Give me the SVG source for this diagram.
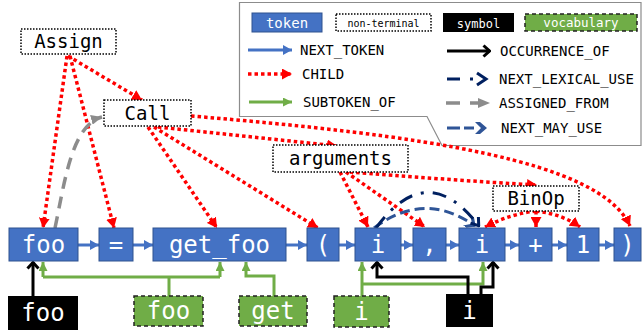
<svg xmlns="http://www.w3.org/2000/svg" width="642" height="336" viewBox="0 0 642 336">
<style>
.tok rect{fill:#4472C4;stroke:#2F528F;stroke-width:1}
.tt{font-family:"DejaVu Sans Mono","Liberation Mono",monospace;font-size:24px;fill:#fff;text-anchor:middle}
.nt rect{fill:#fff;stroke:#000;stroke-width:1.5;stroke-dasharray:1.5 1.5}
.nl{font-family:"DejaVu Sans Mono","Liberation Mono",monospace;font-size:19px;fill:#000;text-anchor:middle}
.sym rect{fill:#000}
.voc rect{fill:#70AD47;stroke:#222;stroke-width:1.5;stroke-dasharray:4 3}
.lg{font-family:"DejaVu Sans Mono","Liberation Mono",monospace;font-size:14px;fill:#000}
.child{fill:none;stroke:#FF0000;stroke-width:3.5;stroke-dasharray:3.5 3;marker-end:url(#ahRed)}
.next{fill:none;stroke:#4472C4;stroke-width:3;marker-end:url(#ahBlue)}
.sub{fill:none;stroke:#70AD47;stroke-width:3}
.suba{marker-end:url(#ahGreen)}
.occ{fill:none;stroke:#000;stroke-width:3}
.occa{marker-end:url(#ahBlack)}
.nlu{fill:none;stroke:#002060;stroke-width:3;stroke-dasharray:14 9 3 9;marker-end:url(#ahNavy)}
.nmu{fill:none;stroke:#2F5597;stroke-width:3;stroke-dasharray:10 5;marker-end:url(#ahMay)}
.asg{fill:none;stroke:#8C8C8C;stroke-width:3.5;stroke-dasharray:12 8;marker-end:url(#ahGray)}
</style>
<defs>
<marker id="ahRed" viewBox="0 0 10 11" refX="10" refY="5.5" markerWidth="10" markerHeight="11" markerUnits="userSpaceOnUse" orient="auto"><path d="M0,0 L10,5.5 L0,11 z" fill="#FF0000"/></marker>
<marker id="ahBlue" viewBox="0 0 9 10" refX="9" refY="5" markerWidth="9" markerHeight="10" markerUnits="userSpaceOnUse" orient="auto"><path d="M0,0 L9,5 L0,10 z" fill="#4472C4"/></marker>
<marker id="ahGreen" viewBox="0 0 9 9" refX="9" refY="4.5" markerWidth="9" markerHeight="9" markerUnits="userSpaceOnUse" orient="auto"><path d="M0,0 L9,4.5 L0,9 z" fill="#70AD47"/></marker>
<marker id="ahBlack" viewBox="0 0 9 14" refX="8" refY="7" markerWidth="9" markerHeight="14" markerUnits="userSpaceOnUse" orient="auto"><path d="M1.5,1.5 L7.5,7 L1.5,12.5" fill="none" stroke="#000" stroke-width="3"/></marker>
<marker id="ahNavy" viewBox="0 0 10 13" refX="9" refY="6.5" markerWidth="10" markerHeight="13" markerUnits="userSpaceOnUse" orient="auto"><path d="M1.5,1.5 L8.5,6.5 L1.5,11.5" fill="none" stroke="#002060" stroke-width="3"/></marker>
<marker id="ahMay" viewBox="0 0 11 13" refX="10" refY="6.5" markerWidth="11" markerHeight="13" markerUnits="userSpaceOnUse" orient="auto"><path d="M0,0 L4,0 L11,6.5 L4,13 L0,13 L6,6.5 z" fill="#2F5597"/></marker>
<marker id="ahGray" viewBox="0 0 11 10" refX="11" refY="5" markerWidth="11" markerHeight="10" markerUnits="userSpaceOnUse" orient="auto"><path d="M0,0 L11,5 L0,10 z" fill="#8C8C8C"/></marker>
</defs>
<rect width="642" height="336" fill="#fff"/>

<g id="legend">
<path d="M239.5,2.5 H641 V145.5 H442 L427,116.5 H239.5 Z" fill="#fff" stroke="#8C8C8C" stroke-width="1.2"/>
<g class="tok"><rect x="252" y="13" width="70" height="19"/></g>
<text x="287" y="28" font-family="DejaVu Sans Mono, monospace" font-size="14" fill="#fff" text-anchor="middle">token</text>
<g class="nt"><rect x="336" y="14" width="95" height="17"/></g>
<text x="383.5" y="26.5" font-family="DejaVu Sans Mono, monospace" font-size="10" fill="#000" text-anchor="middle">non-terminal</text>
<g class="sym"><rect x="443" y="13" width="71" height="19"/></g>
<text x="478.5" y="27.5" font-family="DejaVu Sans Mono, monospace" font-size="12" fill="#fff" text-anchor="middle">symbol</text>
<g class="voc"><rect x="525" y="14" width="112" height="17"/></g>
<text x="581" y="27" font-family="DejaVu Sans Mono, monospace" font-size="12.5" fill="#fff" text-anchor="middle">vocabulary</text>

<path class="next" d="M248,50 H292"/>
<text class="lg" x="300" y="55">NEXT_TOKEN</text>
<path class="child" d="M248,74 H292"/>
<text class="lg" x="302" y="79">CHILD</text>
<path class="sub suba" d="M249,102 H292"/>
<text class="lg" x="303" y="107">SUBTOKEN_OF</text>

<path class="occ occa" d="M447,51 H490"/>
<text class="lg" x="500" y="56">OCCURRENCE_OF</text>
<path d="M447,79 H460 M470,79 H473" fill="none" stroke="#002060" stroke-width="3"/>
<path d="M477,73 L486,79 L477,85" fill="none" stroke="#002060" stroke-width="3"/>
<text class="lg" x="499" y="84">NEXT_LEXICAL_USE</text>
<path d="M446,103 H460 M470,103 H478" fill="none" stroke="#8C8C8C" stroke-width="3.5"/>
<path d="M478,98 L490,103 L478,108 z" fill="#8C8C8C"/>
<text class="lg" x="499" y="108">ASSIGNED_FROM</text>
<path d="M447,128 H460 M464,128 H474" fill="none" stroke="#2F5597" stroke-width="3"/>
<path d="M475,122 L480,122 L487,128 L480,134 L475,134 L481,128 z" fill="#2F5597"/>
<text class="lg" x="501" y="133">NEXT_MAY_USE</text>
</g>

<g id="connectors">
<!-- NEXT_TOKEN -->
<path class="next" d="M78,245 H99"/>
<path class="next" d="M133,245 H153"/>
<path class="next" d="M286,245 H307"/>
<path class="next" d="M339,245 H355"/>
<path class="next" d="M401,245 H413"/>
<path class="next" d="M446,245 H459"/>
<path class="next" d="M505,245 H519"/>
<path class="next" d="M552,245 H567"/>
<path class="next" d="M599,245 H614"/>
<!-- CHILD -->
<path class="child" d="M68,56 L142,100"/>
<path class="child" d="M67,56 L43,228"/>
<path class="child" d="M70,56 L114,228"/>
<path class="child" d="M148,127 L217,228"/>
<path class="child" d="M154,127 L318,228"/>
<path class="child" d="M158,127 L337,146"/>
<path class="child" d="M191,116 C420,135 600,160 630,226"/>
<path class="child" d="M340,172 L368,227"/>
<path class="child" d="M346,172 L425,227"/>
<path class="child" d="M350,172 C400,176 480,182 537,185"/>
<path class="child" d="M536,211 Q510,214 485,227"/>
<path class="child" d="M536,211 L536,227"/>
<path class="child" d="M536,211 Q562,214 580,227"/>
<!-- ASSIGNED_FROM -->
<path class="asg" d="M55,228 C65,180 72,125 102,117"/>
<!-- NEXT_MAY_USE / NEXT_LEXICAL_USE -->
<path class="nmu" d="M374,228 Q425,190 475,226"/>
<path class="nlu" d="M376,228 Q427,158 479,226"/>
<!-- SUBTOKEN_OF -->
<path class="sub" d="M169,296 V277 M43,277 H220"/>
<path class="sub suba" d="M43,277 V262"/>
<path class="sub suba" d="M220,277 V262"/>
<path class="sub suba" d="M274,296 V276 H246 V262"/>
<path class="sub suba" d="M362,296 V262"/>
<path class="sub suba" d="M362,284 H483 V262"/>
<!-- OCCURRENCE_OF -->
<path class="occ occa" d="M33,296 V262"/>
<path class="occ occa" d="M468,294 V277 H377 V262"/>
<path class="occ occa" d="M481,294 V287 H493 V262"/>
</g>

<g id="n_assign" class="nt"><rect x="21" y="29" width="95" height="25"/><text class="nl" x="68.5" y="48">Assign</text></g>
<g id="n_call" class="nt"><rect x="104" y="100" width="87" height="26"/><text class="nl" x="147.5" y="120">Call</text></g>
<g id="n_arguments" class="nt"><rect x="273" y="145" width="135" height="27"/><text class="nl" x="340.5" y="165">arguments</text></g>
<g id="n_binop" class="nt"><rect x="493" y="186" width="86" height="25"/><text class="nl" x="536" y="205">BinOp</text></g>

<g id="t_foo" class="tok"><rect x="9" y="228" width="69" height="33"/><text class="tt" x="43.5" y="253">foo</text></g>
<g id="t_eq" class="tok"><rect x="99" y="228" width="34" height="33"/><text class="tt" x="116" y="253">=</text></g>
<g id="t_get_foo" class="tok"><rect x="153" y="228" width="133" height="33"/><text class="tt" x="219.5" y="253">get_foo</text></g>
<g id="t_lpar" class="tok"><rect x="307" y="228" width="32" height="33"/><text class="tt" x="323" y="253">(</text></g>
<g id="t_i1" class="tok"><rect x="355" y="228" width="46" height="33"/><text class="tt" x="378" y="253">i</text></g>
<g id="t_comma" class="tok"><rect x="413" y="228" width="33" height="33"/><text class="tt" x="429.5" y="253">,</text></g>
<g id="t_i2" class="tok"><rect x="459" y="228" width="46" height="33"/><text class="tt" x="482" y="253">i</text></g>
<g id="t_plus" class="tok"><rect x="519" y="228" width="33" height="33"/><text class="tt" x="535.5" y="253">+</text></g>
<g id="t_one" class="tok"><rect x="567" y="228" width="32" height="33"/><text class="tt" x="583" y="253">1</text></g>
<g id="t_rpar" class="tok"><rect x="614" y="228" width="27" height="33"/><text class="tt" x="627.5" y="253">)</text></g>

<g id="s_foo" class="sym"><rect x="8" y="296" width="70" height="34"/><text class="tt" x="43" y="321">foo</text></g>
<g id="v_foo" class="voc"><rect x="134" y="296" width="69" height="30"/><text class="tt" x="168.5" y="319">foo</text></g>
<g id="v_get" class="voc"><rect x="239" y="296" width="68" height="30"/><text class="tt" x="273" y="319">get</text></g>
<g id="v_i" class="voc"><rect x="334" y="296" width="55" height="31"/><text class="tt" x="361.5" y="320">i</text></g>
<g id="s_i" class="sym"><rect x="446" y="294" width="47" height="33"/><text class="tt" x="469.5" y="319">i</text></g>
</svg>
